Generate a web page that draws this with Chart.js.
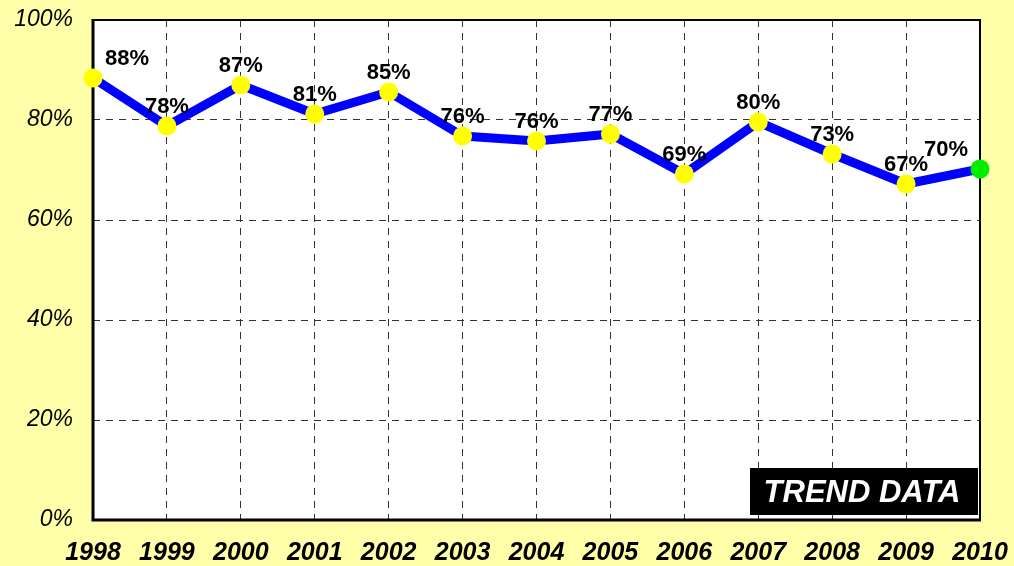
<!DOCTYPE html>
<html>
<head>
<meta charset="utf-8">
<script src="https://cdn.jsdelivr.net/npm/chart.js@4.4.1/dist/chart.umd.min.js"></script>
<style>
    html, body { margin: 0; padding: 0; background: #ffffaa; }
    #wrap { width: 1014px; height: 566px; }
</style>
</head>
<body>
<div id="wrap"><canvas id="trendChart"></canvas></div>
<script>
    "use strict";

    const years = ['1998', '1999', '2000', '2001', '2002', '2003', '2004',
                   '2005', '2006', '2007', '2008', '2009', '2010'];
    const values = [88.4, 78.8, 87.0, 81.2, 85.6, 76.8, 75.8, 77.2, 69.2, 79.6, 73.2, 67.2, 70.2];
    const pctLabels = ['88%', '78%', '87%', '81%', '85%', '76%', '76%',
                       '77%', '69%', '80%', '73%', '67%', '70%'];
    const yTicks = [0, 20, 40, 60, 80, 100];
    const badgeText = 'TREND DATA';

    const FONT = '"Liberation Sans", Arial, Helvetica, sans-serif';

    // yellow dots, last one green
    const pointColors = values.map(function (v, i) {
        return i === values.length - 1 ? '#00ee00' : '#ffff00';
    });

    const plotFrame = {
        id: 'plotFrame',
        beforeDraw: function (chart) {
            const a = chart.chartArea;
            const ctx = chart.ctx;
            ctx.save();
            ctx.fillStyle = '#ffffff';
            ctx.fillRect(a.left, a.top, a.right - a.left, a.bottom - a.top);
            ctx.restore();
        },
        beforeDatasetsDraw: function (chart) {
            const a = chart.chartArea;
            const ctx = chart.ctx;
            ctx.save();
            ctx.strokeStyle = '#000000';
            // top + right thinner
            ctx.lineWidth = 2;
            ctx.beginPath();
            ctx.moveTo(a.left, a.top);
            ctx.lineTo(a.right, a.top);
            ctx.lineTo(a.right, a.bottom);
            ctx.stroke();
            // left + bottom thicker
            ctx.lineWidth = 3;
            ctx.beginPath();
            ctx.moveTo(a.left, a.top - 1);
            ctx.lineTo(a.left, a.bottom);
            ctx.lineTo(a.right + 1, a.bottom);
            ctx.stroke();

            // badge in the lower right corner
            const bx = a.right - 230, by = a.bottom - 52;
            ctx.fillStyle = '#000000';
            ctx.fillRect(bx, by, 228, 47);
            ctx.fillStyle = '#ffffff';
            ctx.font = 'italic bold 31px ' + FONT;
            ctx.textAlign = 'center';
            ctx.textBaseline = 'middle';
            ctx.fillText(badgeText, bx + 112, by + 25);
            ctx.restore();
        }
    };

    const valueLabels = {
        id: 'valueLabels',
        afterDatasetsDraw: function (chart) {
            const meta = chart.getDatasetMeta(0);
            const ctx = chart.ctx;
            ctx.save();
            ctx.fillStyle = '#000000';
            ctx.font = 'bold 22px ' + FONT;
            ctx.textBaseline = 'middle';
            meta.data.forEach(function (pt, i) {
                let x = pt.x;
                ctx.textAlign = 'center';
                if (i === 0) {
                    ctx.textAlign = 'left';
                    x = pt.x + 12;
                } else if (i === values.length - 1) {
                    ctx.textAlign = 'right';
                    x = pt.x - 12;
                }
                ctx.fillText(pctLabels[i], x, pt.y - 19);
            });
            ctx.restore();
        }
    };

    const ctx = document.getElementById('trendChart').getContext('2d');
    new Chart(ctx, {
        type: 'line',
        data: {
            labels: years,
            datasets: [{
                data: values,
                borderColor: '#0000ff',
                borderWidth: 9,
                borderJoinStyle: 'round',
                tension: 0,
                pointRadius: 9.5,
                pointBorderWidth: 0,
                pointBackgroundColor: pointColors,
                pointBorderColor: pointColors,
                clip: false
            }]
        },
        plugins: [plotFrame, valueLabels],
        options: {
            responsive: true,
            maintainAspectRatio: false,
            animation: false,
            layout: { padding: { top: 20, right: 34, left: 0, bottom: 0 } },
            plugins: {
                legend: { display: false },
                tooltip: { enabled: false },
                title: { display: false }
            },
            scales: {
                x: {
                    offset: false,
                    afterFit: function (scale) {
                        // fixed frame, no label overhang padding
                        scale.height = 46;
                        scale.paddingLeft = 0;
                        scale.paddingRight = 0;
                    },
                    grid: {
                        color: '#333333',
                        lineWidth: 1,
                        drawTicks: false
                    },
                    border: { display: false, dash: [7, 6] },
                    ticks: {
                        autoSkip: false,
                        maxRotation: 0,
                        padding: 18,
                        color: '#000000',
                        font: { family: FONT, size: 25, style: 'italic', weight: 'bold' }
                    }
                },
                y: {
                    min: 0,
                    max: 100,
                    afterFit: function (scale) {
                        scale.width = 93;
                        scale.paddingTop = 0;
                        scale.paddingBottom = 0;
                    },
                    afterBuildTicks: function (scale) {
                        scale.ticks = yTicks.map(function (v) { return { value: v }; });
                    },
                    grid: {
                        color: '#333333',
                        lineWidth: 1,
                        drawTicks: false
                    },
                    border: { display: false, dash: [7, 6] },
                    ticks: {
                        padding: 20,
                        color: '#000000',
                        font: { family: FONT, size: 23, style: 'italic' },
                        callback: function (v) { return v + '%'; }
                    }
                }
            }
        }
    });
</script>
</body>
</html>
